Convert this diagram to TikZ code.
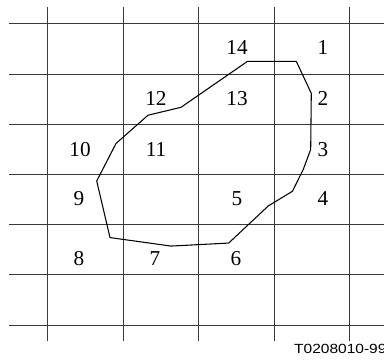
\documentclass[tikz,border=0pt]{standalone}
\usepackage{fontspec}
\setmainfont{Liberation Serif}
\setsansfont{Liberation Sans}
\usepackage{xcolor}
\usepackage{tikz}
\definecolor{gridln}{HTML}{3A3A3A}
\tikzset{fig/.style={line join=round},
  cell/.style={font=\fontsize{16}{18}\selectfont,inner sep=0pt},
  tag/.style={font=\sffamily\fontsize{10}{12}\selectfont,anchor=base west,inner sep=0pt,xscale=1.17}}

\begin{document}
\begin{tikzpicture}[fig,x=2cm,y=1.33cm]
  \useasboundingbox(0.368,0.272)rectangle(5.454,7.474);
  \foreach \r in {1,...,7}{\draw[gridln,line width=0.7pt](0.49,\r)--(5.6,\r);}
  \foreach \c in {1,...,5}{\draw[gridln,line width=0.7pt](\c,0.683)--(\c,7.33);}
  % the outline
  \draw[black,line width=0.8pt](3.644,6.25)--(4.293,6.25)--(4.491,5.615)--(4.483,4.498)--(4.385,4.101)--(4.242,3.665)--(3.922,3.373)
    --(3.397,2.633)--(2.633,2.573)--(1.825,2.742)--(1.649,3.869)--(1.905,4.617)--(2.328,5.179)--(2.766,5.337)--cycle;
  % cell numbers
  \node[cell](n14)at(3.507,6.52){14};\node[cell](n1)at(4.646,6.52){1};
  \node[cell](n12)at(2.434,5.516){12};\node[cell](n13)at(3.507,5.516){13};\node[cell](n2)at(4.646,5.516){2};
  \node[cell](n10)at(1.428,4.498){10};\node[cell](n11)at(2.434,4.498){11};\node[cell](n3)at(4.646,4.498){3};
  \node[cell](n9)at(1.415,3.52){9};\node[cell](n5)at(3.507,3.52){5};\node[cell](n4)at(4.646,3.52){4};
  \node[cell](n8)at(1.415,2.315){8};\node[cell](n7)at(2.42,2.315){7};\node[cell](n6)at(3.494,2.315){6};
  \node[tag](ref)at(4.26,0.43){T0208010-99};
\end{tikzpicture}
\end{document}
